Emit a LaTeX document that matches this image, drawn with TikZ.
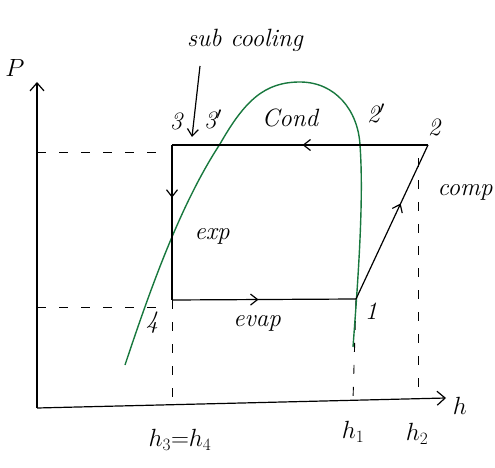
\documentclass[tikz,border=0pt]{standalone}
\usetikzlibrary{arrows.meta,decorations.markings}
\definecolor{domegreen}{RGB}{24,120,62}
\tikzset{
  proc/.style={postaction={decorate}, decoration={markings,
      mark=at position #1 with {\arrow{Straight Barb[length=7pt,width=11pt]}}}},
  guide/.style={dash pattern=on 9pt off 13pt, line width=0.9pt},
  lbl/.style={font=\fontsize{25}{29}\selectfont\itshape, inner sep=1pt},
}
\begin{document}
\begin{tikzpicture}[x=1pt, y=-1pt, line width=1.2pt]
  \useasboundingbox (0,0) rectangle (495,468);
  % axes
  \coordinate (O) at (37,408);
  \coordinate (Ptop) at (37,82);
  \coordinate (hend) at (446,398);
  \draw[-{Straight Barb[length=8pt,width=14pt]}] (O) -- (Ptop);
  \draw[-{Straight Barb[length=8pt,width=14pt]}] (O) -- (hend);
  \node[lbl] (lP) at (15,68) {$P$};
  \node[lbl] (lh) at (460,406) {$h$};

  % state points
  \coordinate (p1) at (356,299);
  \coordinate (p2) at (428,145);
  \coordinate (p3) at (172,145);
  \coordinate (p4) at (172,300);
  \coordinate (p3s) at (220,144);
  \coordinate (p2s) at (360,145);
  \coordinate (peak) at (300,82);

  % guide lines
  \draw[guide] (O |- p3) ++(0,7) -- (167,152);
  \draw[guide] (37,307) -- (165,307);
  \draw[guide] (p4) -- (p4 |- O);
  \draw[guide] (p1) -- (353,400);
  \draw[guide] (418,158) -- (418,396);

  % saturation dome
  \draw[domegreen, line width=1.4pt] (125,365)
    .. controls (150,290) and (180,205) .. (p3s)
    .. controls (245,100) and (265,82) .. (peak)
    .. controls (335,82) and (358,110) .. (p2s)
    .. controls (364,200) and (358,280) .. (353,347);

  % cycle
  \draw[proc=0.62] (p1) -- (p2);
  \draw[proc=0.49] (p2) -- (p3);
  \draw[proc=0.34] (p3) -- (p4);
  \draw[proc=0.47] (p4) -- (p1);

  % subcooling note
  \node[lbl] (lsub) at (245,40) {sub cooling};
  \coordinate (subtail) at (200,66);
  \coordinate (subtip) at (192,137);
  \draw[-{Straight Barb[length=7pt,width=11pt]}] (subtail) -- (subtip);

  % point and process labels
  \node[lbl] (l3) at (176,121) {3};
  \node[lbl] (l3s) at (213,119) {3$'$};
  \node[lbl] (lcond) at (290,118) {Cond};
  \node[lbl] (l2s) at (376,113) {2$'$};
  \node[lbl] (l2) at (434,127) {2};
  \node[lbl] (lcomp) at (465,192) {comp};
  \node[lbl] (lexp) at (212,236) {exp};
  \node[lbl] (levap) at (257,323) {evap};
  \node[lbl] (l4) at (152,323) {4};
  \node[lbl] (l1) at (371,311) {1};

  % enthalpy marks
  \node[lbl] (lh34) at (180,440) {$h_3{=}h_4$};
  \node[lbl] (lh1) at (353,432) {$h_1$};
  \node[lbl] (lh2) at (417,434) {$h_2$};
\end{tikzpicture}
\end{document}
